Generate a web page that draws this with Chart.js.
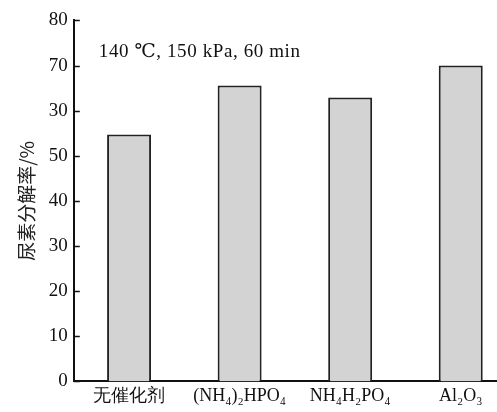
<!DOCTYPE html>
<html>
<head>
<meta charset="utf-8">
<script src="https://cdn.jsdelivr.net/npm/chart.js@4/dist/chart.umd.min.js"></script>
<style>
  html, body { margin: 0; padding: 0; background: #fff; overflow: hidden; }
  #wrap { width: 516px; height: 409px; margin-top: 3px; }
</style>
</head>
<body>
<div id="wrap"><canvas id="chart" width="516" height="409"></canvas></div>
<script>
//categories on the x axis
const categories = ["无催化剂", "(NH₄)₂HPO₄", "NH₄H₂PO₄", "Al₂O₃"];
//urea decomposition rate (%)
const decompRate = [54.7, 65.6, 62.9, 70.0];
//tick labels as printed on the y axis (top -> bottom reads 80,70,30,50,...)
const tickValues = [0, 10, 20, 30, 40, 50, 60, 70, 80];
const tickLabels = ["0", "10", "20", "30", "40", "50", "30", "70", "80"];
const yTitle = "尿素分解率/%";
const conditionText = "140 ℃, 150 kPa, 60 min";

const serif = "'Liberation Serif', 'DejaVu Serif', serif";

//inward tick marks on the y axis + condition text
const extras = {
    id: "extras",
    afterDraw(chart) {
        const ctx = chart.ctx;
        const y = chart.scales.y;
        const left = chart.chartArea.left;
        ctx.save();
        ctx.strokeStyle = "#111";
        ctx.lineWidth = 1.5;
        for (let v of tickValues) {
            const py = Math.round(y.getPixelForValue(v)) + 0.5;
            ctx.beginPath();
            ctx.moveTo(left, py);
            ctx.lineTo(left + 6, py);
            ctx.stroke();
        }
        ctx.fillStyle = "#111";
        ctx.font = "19px " + serif;
        ctx.letterSpacing = "0.6px";
        ctx.textBaseline = "middle";
        ctx.fillText(conditionText, left + 25, y.getPixelForValue(72.9));
        ctx.restore();
    }
};

new Chart(document.getElementById("chart"), {
    type: "bar",
    plugins: [extras],
    data: {
        labels: categories,
        datasets: [{
            data: decompRate,
            backgroundColor: "#d3d3d3",
            borderColor: "#222",
            borderWidth: 2,
            borderSkipped: "bottom",
            categoryPercentage: 1,
            barPercentage: 0.398,
        }],
    },
    options: {
        responsive: false,
        animation: false,
        layout: { padding: { top: 14, right: 0, left: 15, bottom: 1 } },
        plugins: {
            legend: { display: false },
            tooltip: { enabled: false },
        },
        scales: {
            x: {
                offset: true,
                grid: { display: false, drawTicks: false },
                border: { display: true, color: "#111", width: 2 },
                ticks: {
                    color: "#111",
                    padding: 4,
                    maxRotation: 0,
                    font: { family: serif, size: 18 },
                },
            },
            y: {
                min: 0,
                max: 80,
                grid: { display: false, drawTicks: false },
                border: { display: true, color: "#111", width: 2 },
                afterBuildTicks: (scale) => {
                    scale.ticks = tickValues.map((v) => ({ value: v }));
                },
                ticks: {
                    color: "#111",
                    padding: 6,
                    font: { family: serif, size: 19 },
                    callback: (v) => tickLabels[tickValues.indexOf(v)],
                },
                title: {
                    display: true,
                    text: yTitle,
                    color: "#222",
                    padding: { top: 0, bottom: 5 },
                    font: { family: "'Noto Sans CJK SC', sans-serif", size: 19 },
                },
            },
        },
    },
});
</script>
</body>
</html>
